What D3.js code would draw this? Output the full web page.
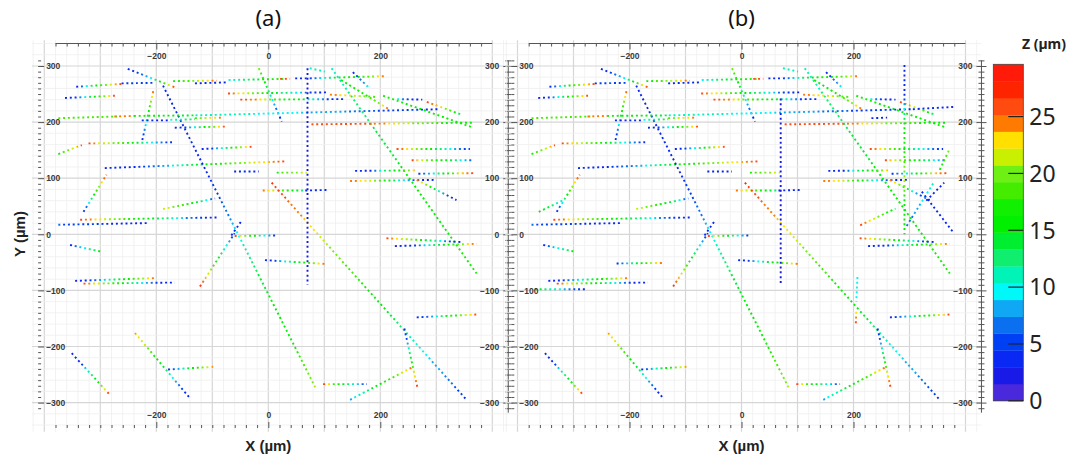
<!DOCTYPE html>
<html><head><meta charset="utf-8">
<script src="https://cdn.jsdelivr.net/npm/d3@7"></script>
<style>body{margin:0;background:#fff;} svg{display:block;}</style>
</head><body><svg id="c" width="1083" height="456"></svg>
<script>
// ---------- DATA ----------
const panels = ["(a)", "(b)"];
const xTickLabels = [-200, 0, 200];
const yTickLabels = [-300, -200, -100, 0, 100, 200, 300];
const zTicks = [0, 5, 10, 15, 20, 25];
const zRange = [0, 29.6];
// colour bands of the Z scale, bottom -> top
const bandColors = ["#4a28dc","#1a1ae8","#0a28f4","#0040f4","#0a70f0","#10a8f4","#00f8f8","#00f4b8","#10ee70","#00ee30",
                    "#00f000","#10f000","#44ec00","#6ef014","#c8f000","#ffe000","#ff7a00","#ff4a10","#ff2400","#ff1a0a"];
// fibre segments: [x1, y1, x2, y2, Z values along the segment]
const sharedSegments = [
  [-251,295,-167,262,[3,5,10,17,27]],
  [-343,263,-262,268,[3,10,17,22,26]],
  [-262,269,-205,270,[4,6,5]],
  [-170,273,-92,274,[16,20,25]],
  [-131,269,-71,271,[3,3]],
  [-71,275,30,277,[10,13,16,19]],
  [21,277,39,277,[26,26]],
  [48,278,69,278,[3,3]],
  [74,278,211,282,[5,12,17,18,26]],
  [-17,296,24,201,[20,14,8,3]],
  [113,296,372,-70,[11,13,15,16,17]],
  [74,296,101,290,[11,11]],
  [151,289,181,260,[3,10]],
  [130,275,217,222,[15,16,17,20,26]],
  [-72,251,104,253,[26,22,18,14,11,5,3]],
  [-50,240,137,241,[26,24,20,17,15,10,4,3]],
  [110,249,191,245,[25,22,18]],
  [283,236,343,214,[26,24,21,18,12]],
  [77,196,366,199,[26,26,25,21,18,16]],
  [205,247,366,190,[17,16,15,17]],
  [229,152,360,152,[26,22,17,12,8,4]],
  [256,132,363,132,[26,20,16,12,6]],
  [268,108,369,109,[4,8,14,18,24,27]],
  [155,113,265,114,[3,4,14,16,25]],
  [146,95,300,97,[25,22,17,10,4,3]],
  [265,97,336,61,[25,20,12,6,3]],
  [-10,78,63,78,[25,21,16,12]],
  [66,78,104,79,[3,3]],
  [-61,112,-17,112,[3,3]],
  [15,110,69,110,[17,20,22]],
  [-292,118,30,130,[3,4,8,14,18,22,26]],
  [6,92,354,-295,[27,24,21,18,15,11,8,4]],
  [243,-168,266,-272,[3,6,12,17,23,26]],
  [146,-295,259,-236,[8,12,16,20,26]],
  [98,-267,176,-267,[27,18,14,10,4]],
  [265,-148,372,-143,[3,6,10,15,18,22,26]],
  [211,-7,348,-14,[26,22,20,15,11,5,3]],
  [226,-21,372,-17,[3,4,10,15,20,25]],
  [-6,-46,104,-53,[3,5,10,14,17,21,26]],
  [-188,265,86,-277,[3,3,3,4,6,10,13,15,16,18,21]],
  [-66,-2,-47,25,[3,3]],
  [-122,-93,-60,2,[27,22,16,10,4]],
  [-225,168,-205,257,[3,8,14,20,26]],
  [-375,207,-270,210,[19,18,19]],
  [-275,210,-240,211,[25,25]],
  [-240,211,-130,212,[17,16,15,14]],
  [-130,212,306,223,[11,11,10,9,8,6,5,4]],
  [-226,203,-176,203,[3,3]],
  [-175,204,-131,205,[10,14]],
  [-131,207,-80,208,[18,22,25]],
  [-167,190,-77,192,[3,5,10,16,20,26]],
  [-321,162,-172,164,[26,22,20,16,12,8,4]],
  [-375,143,-333,159,[17,20,26]],
  [-119,152,-30,156,[3,5,10,16,21,26]],
  [-330,40,-289,106,[3,10,16,22,27]],
  [-188,45,-95,64,[22,20,16,12,5]],
  [-336,26,-89,30,[26,22,18,15,11,5,3]],
  [-375,17,-214,20,[6,5,4,4]],
  [-354,-19,-298,-31,[3,9,12,16]],
  [-345,-83,-200,-78,[3,5,10,15,20,25]],
  [-330,-88,-167,-86,[26,22,18,14,9,4,3]],
  [-351,-212,-283,-286,[3,3,10,14,20,27]],
  [-238,-176,-140,-292,[24,21,17,14,10,5,3]],
  [-179,-241,-95,-236,[3,8,13,17,21,25]],
  [-60,-3,15,-2,[26,21,17,12,8,4]],
  [230,241,275,240,[10,4,3]],
  [-363,243,-274,247,[3,4,10,16,20,26]]
];
const onlyA = [
  [70,296,70,-90,[2,2]]
];
const onlyB = [
  [70,242,70,-88,[2,2]],
  [306,223,378,227,[4,3]],
  [291,302,291,0,[3,3,15,17,21,16,15]],
  [232,207,260,208,[3,3]],
  [354,115,372,153,[16,20]],
  [212,16,275,46,[26,22,18,14]],
  [295,15,345,95,[6,9,11]],
  [330,60,362,92,[3,3]],
  [322,76,377,5,[4,3]],
  [-362,40,-318,61,[16,13,10]],
  [-369,-98,-277,-98,[16,12,10,6,4]],
  [-223,-52,-140,-51,[4,8,14,17,22,26]],
  [207,-76,205,-120,[10,10]],
  [205,-138,204,-163,[22,27]]
];

// ---------- DRAWING ----------
const svg = d3.select("#c");
const defs = svg.append("defs");
const KX = 0.56, KY = 0.561, Y0 = 234.3;
const panelX0 = [268.3, 741.5];
const color = d3.scaleQuantize().domain(zRange).range(bandColors);
const zAt = (zs, t) => {
  const n = zs.length - 1;
  if (n === 0) return zs[0];
  const p = t * n, i = Math.min(Math.floor(p), n - 1);
  return zs[i] + (zs[i + 1] - zs[i]) * (p - i);
};
const tickFont = g => g.selectAll("text").attr("font-family", "Liberation Sans, Arial, sans-serif")
  .attr("font-weight", "bold").attr("font-size", 8.5).attr("fill", "#3a3a3a");
let gid = 0;

panels.forEach((label, pi) => {
  const x0 = panelX0[pi];
  const x = d3.scaleLinear().domain([-400, 400]).range([x0 - 400 * KX, x0 + 400 * KX]);
  const y = d3.scaleLinear().domain([-300, 300]).range([Y0 + 300 * KY, Y0 - 300 * KY]);
  const g = svg.append("g");

  // grid
  const gx = d3.range(-420, 421, 20).sort((a, b) => (a % 100 === 0) - (b % 100 === 0));
  const gy = d3.range(-340, 341, 20).sort((a, b) => (a % 100 === 0) - (b % 100 === 0));
  g.append("g").selectAll("line").data(gx).join("line")
    .attr("x1", d => x(d)).attr("x2", d => x(d)).attr("y1", y(346)).attr("y2", y(-352))
    .attr("stroke", d => d % 100 === 0 ? "#d6d6d6" : "#efefef").attr("stroke-width", d => d % 100 === 0 ? 1.2 : 0.8);
  g.append("g").selectAll("line").data(gy).join("line")
    .attr("y1", d => y(d)).attr("y2", d => y(d)).attr("x1", x(-422)).attr("x2", x(428))
    .attr("stroke", d => d % 100 === 0 ? "#d6d6d6" : "#efefef").attr("stroke-width", d => d % 100 === 0 ? 1.2 : 0.8);

  // fibre segments
  const segs = sharedSegments.concat(pi === 0 ? onlyA : onlyB);
  segs.forEach(s => {
    const [X1, Y1, X2, Y2, zs] = s;
    const id = "grad" + (gid++);
    const grad = defs.append("linearGradient").attr("id", id).attr("gradientUnits", "userSpaceOnUse")
      .attr("x1", x(X1)).attr("y1", y(Y1)).attr("x2", x(X2)).attr("y2", y(Y2));
    d3.range(0, 41).forEach(k => {
      const t = k / 40;
      grad.append("stop").attr("offset", t).attr("stop-color", color(zAt(zs, t)));
    });
    g.append("line").attr("x1", x(X1)).attr("y1", y(Y1)).attr("x2", x(X2)).attr("y2", y(Y2))
      .attr("stroke", `url(#${id})`).attr("stroke-width", 1.9).attr("stroke-dasharray", "2 2.8");
  });

  const axisStroke = "#555";
  // top ruler
  g.append("line").attr("x1", x(-380)).attr("x2", x(400)).attr("y1", 43.5).attr("y2", 43.5).attr("stroke", axisStroke);
  const topMinor = d3.axisBottom(x).tickValues(d3.range(-380, 381, 20).filter(d => !xTickLabels.includes(d))).tickSize(3).tickFormat("");
  const topMajor = d3.axisBottom(x).tickValues(xTickLabels).tickSize(6).tickPadding(3).tickFormat(d3.format("d"));
  [topMinor, topMajor].forEach(a => g.append("g").attr("transform", "translate(0,43.5)").call(a)
    .call(s => s.select(".domain").remove()).call(s => s.selectAll("line").attr("stroke", axisStroke)).call(tickFont));

  // bottom ruler
  const botMinor = d3.axisTop(x).tickValues(d3.range(-380, 381, 20).filter(d => !xTickLabels.includes(d))).tickSize(3).tickFormat("");
  const botMajor = d3.axisTop(x).tickValues(xTickLabels).tickSize(6).tickPadding(4).tickFormat(d3.format("d"));
  [botMinor, botMajor].forEach(a => g.append("g").attr("transform", "translate(0,428)").call(a)
    .call(s => s.select(".domain").remove()).call(s => s.selectAll("line").attr("stroke", axisStroke)).call(tickFont));

  // left ruler
  const lx = x(-411);
  const leftMinor = d3.axisRight(y).tickValues(d3.range(-310, 311, 10).filter(d => d % 100 !== 0)).tickSize(3).tickFormat("");
  const leftMajor = d3.axisRight(y).tickValues(yTickLabels).tickSize(6).tickPadding(2).tickFormat(d3.format("d"));
  [leftMinor, leftMajor].forEach(a => g.append("g").attr("transform", `translate(${lx},0)`).call(a)
    .call(s => s.select(".domain").remove()).call(s => s.selectAll("line").attr("stroke", axisStroke)).call(tickFont));

  // right axis
  const rx = x(428.5);
  g.append("line").attr("x1", rx).attr("x2", rx).attr("y1", y(310)).attr("y2", y(-318)).attr("stroke", axisStroke);
  const rMinor = d3.axisLeft(y).tickValues(d3.range(-310, 311, 10).filter(d => d % 100 !== 0)).tickSize(3).tickFormat("");
  const rMajor = d3.axisLeft(y).tickValues(yTickLabels).tickSize(5).tickPadding(4).tickFormat(d3.format("d"));
  [[rMinor, 3], [rMajor, 5]].forEach(([a, sz]) => g.append("g").attr("transform", `translate(${rx},0)`).call(a)
    .call(s => s.select(".domain").remove())
    .call(s => s.selectAll("line").attr("x1", sz).attr("stroke", axisStroke)).call(tickFont));

  // titles
  g.append("text").attr("x", x0).attr("y", 26).attr("text-anchor", "middle")
    .attr("font-family", "Noto Sans, sans-serif").attr("font-size", 22).attr("fill", "#111").text(label);
  g.append("text").attr("x", x0).attr("y", 451).attr("text-anchor", "middle")
    .attr("font-family", "Liberation Sans, Arial, sans-serif").attr("font-weight", "bold").attr("font-size", 15).attr("fill", "#222").text("X (µm)");
});

// Y label
svg.append("text").attr("transform", "translate(25,234) rotate(-90)").attr("text-anchor", "middle")
  .attr("font-family", "Liberation Sans, Arial, sans-serif").attr("font-weight", "bold").attr("font-size", 15).attr("fill", "#222").text("Y (µm)");

// colour bar
const cbX = 993.3, cbW = 30;
const zy = d3.scaleLinear().domain(zRange).range([400.8, 64.3]);
const step = (zRange[1] - zRange[0]) / bandColors.length;
const cb = svg.append("g");
cb.selectAll("rect.band").data(bandColors).join("rect").attr("class", "band")
  .attr("x", cbX).attr("width", cbW)
  .attr("y", (d, i) => zy((i + 1) * step)).attr("height", (d, i) => zy(i * step) - zy((i + 1) * step) + 0.3)
  .attr("fill", d => d);
cb.append("rect").attr("x", cbX).attr("y", zy(zRange[1])).attr("width", cbW).attr("height", zy(zRange[0]) - zy(zRange[1]))
  .attr("fill", "none").attr("stroke", "#444").attr("stroke-width", 0.8);
cb.selectAll("line.tk").data(zTicks).join("line").attr("class", "tk")
  .attr("x1", cbX + 15).attr("x2", cbX + cbW).attr("y1", d => zy(d)).attr("y2", d => zy(d))
  .attr("stroke", "#222").attr("stroke-width", 1.2);
cb.selectAll("text.tl").data(zTicks).join("text").attr("class", "tl")
  .attr("x", cbX + cbW + 6).attr("y", d => zy(d)).attr("dy", "0.36em")
  .attr("font-family", "Noto Sans, sans-serif").attr("font-size", 23).attr("fill", "#222").text(d => d);
cb.append("text").attr("x", 1044).attr("y", 49).attr("text-anchor", "middle")
  .attr("font-family", "Noto Sans, sans-serif").attr("font-weight", "bold").attr("font-size", 14).attr("fill", "#222").text("Z (µm)");
</script>
</body></html>
